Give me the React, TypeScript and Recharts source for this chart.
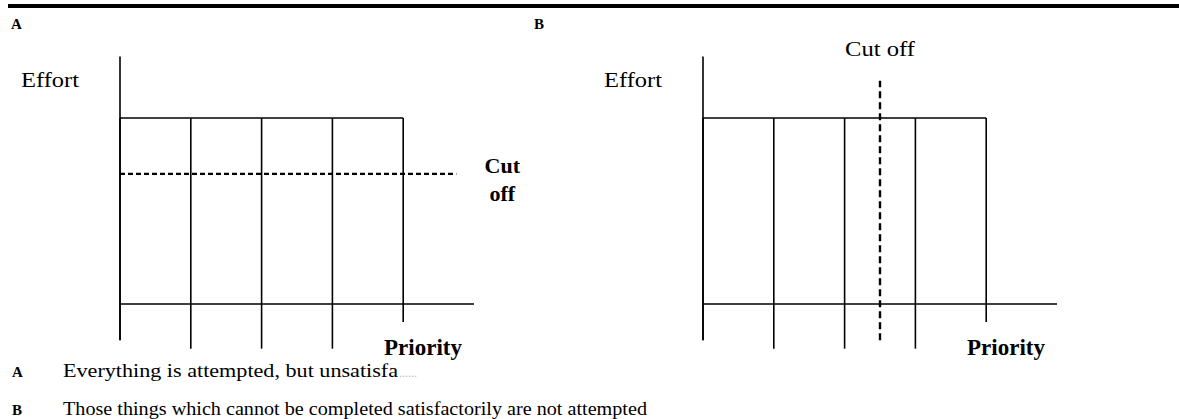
import React from "react";
import { ComposedChart, XAxis, YAxis, ReferenceLine } from "recharts";

// edges of the four equal tasks along the Priority axis
const taskEdges = [0, 1, 2, 3, 4];
// how far below the Priority axis each edge line is drawn
const edgeBottomsA = [-1.95, -2.4, -2.4, -2.4, -0.97];
const edgeBottomsB = [-1.95, -2.4, -2.4, -2.4, -0.97];
const effortLevel = 10;
const effortAxisTop = 13.3;
const effortAxisBottom = -1.95;
const priorityEnd = 5;

// A: cut off is a level of effort
const cutOffEffortA = 7.0;
const cutOffReachA = 4.75;
// B: cut off is a point on the priority scale
const cutOffPriorityB = 2.5;
const cutOffSpanB = [-1.95, 12.0];

const captionLetters = ["A", "B"];
const captions = [
  "Everything is attempted, but unsatisfa",
  "Those things which cannot be completed satisfactorily are not attempted",
];

const SERIF = "'Liberation Serif', 'Times New Roman', serif";
const W = 580;
const H = 419;
const margin = { top: 34.3, right: 106, bottom: 59.2, left: 120 };

const EffortLabel = (props: any) => {
  const { viewBox } = props;
  return (
    <text x={viewBox.x - 70} y={viewBox.y + 30} textAnchor="middle" fontFamily={SERIF} fontSize={22} textLength={58} lengthAdjust="spacingAndGlyphs" fill="#000">
      Effort
    </text>
  );
};

const PriorityLabel = (props: any) => {
  const { viewBox } = props;
  return (
    <text x={viewBox.x + viewBox.width - 51} y={viewBox.y + 51} textAnchor="middle" fontFamily={SERIF} fontWeight="bold" fontSize={23} textLength={78} lengthAdjust="spacingAndGlyphs" fill="#000">
      Priority
    </text>
  );
};

const CutOffSideLabel = (props: any) => {
  const { viewBox } = props;
  const cx = viewBox.x + viewBox.width + 46;
  return (
    <g fontFamily={SERIF} fontWeight="bold" fontSize={22} fill="#000">
      <text x={cx} y={viewBox.y - 1} textAnchor="middle">Cut</text>
      <text x={cx} y={viewBox.y + 27} textAnchor="middle">off</text>
    </g>
  );
};

const CutOffTopLabel = (props: any) => {
  const { viewBox } = props;
  return (
    <text x={viewBox.x} y={viewBox.y - 25} textAnchor="middle" fontFamily={SERIF} fontSize={22} textLength={70} lengthAdjust="spacingAndGlyphs" fill="#000">
      Cut off
    </text>
  );
};

const Panel = ({ variant }: { variant: "A" | "B" }) => {
  const bottoms = variant === "A" ? edgeBottomsA : edgeBottomsB;
  const last = taskEdges[taskEdges.length - 1];
  return (
    <ComposedChart width={W} height={H} margin={margin} data={[]}>
      <XAxis type="number" dataKey="x" domain={[0, priorityEnd]} hide allowDataOverflow />
      <YAxis type="number" domain={[-3, 14.5]} hide allowDataOverflow />
      {/* Effort axis */}
      <ReferenceLine
        segment={[{ x: 0, y: effortAxisBottom }, { x: 0, y: effortAxisTop }]}
        stroke="#000"
        strokeWidth={1.6}
        label={EffortLabel}
      />
      {/* Priority axis */}
      <ReferenceLine
        segment={[{ x: 0, y: 0 }, { x: priorityEnd, y: 0 }]}
        stroke="#000"
        strokeWidth={1.6}
        label={PriorityLabel}
      />
      {/* top of the tasks */}
      <ReferenceLine
        segment={[{ x: 0, y: effortLevel }, { x: last, y: effortLevel }]}
        stroke="#000"
        strokeWidth={1.6}
      />
      {taskEdges.map((e, i) => (
        <ReferenceLine
          key={`edge-${i}`}
          segment={[{ x: e, y: bottoms[i] }, { x: e, y: effortLevel }]}
          stroke="#000"
          strokeWidth={1.6}
        />
      ))}
      {variant === "A" ? (
        <ReferenceLine
          segment={[{ x: 0, y: cutOffEffortA }, { x: cutOffReachA, y: cutOffEffortA }]}
          stroke="#000"
          strokeWidth={2.2}
          strokeDasharray="5 3"
          label={CutOffSideLabel}
        />
      ) : (
        <ReferenceLine
          segment={[{ x: cutOffPriorityB, y: cutOffSpanB[0] }, { x: cutOffPriorityB, y: cutOffSpanB[1] }]}
          stroke="#000"
          strokeWidth={2.4}
          strokeDasharray="7 4"
          label={CutOffTopLabel}
        />
      )}
    </ComposedChart>
  );
};

export default function App() {
  return (
    <div style={{ position: "absolute", left: 0, top: 0, width: 1179, height: 419, background: "#fff", overflow: "hidden" }}>
      <div style={{ position: "absolute", left: 8, top: 4, width: 1171, height: 4, background: "#000" }} />
      <div style={{ position: "absolute", left: 0, top: 0 }}>
        <Panel variant="A" />
      </div>
      <div style={{ position: "absolute", left: 583, top: 0 }}>
        <Panel variant="B" />
      </div>
      <svg width={1179} height={419} style={{ position: "absolute", left: 0, top: 0, pointerEvents: "none" }}>
        <g fontFamily={SERIF} fontWeight="bold" fontSize={15} fill="#000">
          <text x={11} y={29}>{captionLetters[0]}</text>
          <text x={534} y={29}>{captionLetters[1]}</text>
          <text x={12} y={377}>{captionLetters[0]}</text>
          <text x={12} y={415}>{captionLetters[1]}</text>
        </g>
        <g fontFamily={SERIF} fontSize={18} fill="#000">
          <text x={63} y={377} textLength={335} lengthAdjust="spacingAndGlyphs">{captions[0]}</text>
          <text x={399} y={377} fill="#bbb" fontSize={12}>......</text>
          <text x={63} y={415} textLength={584} lengthAdjust="spacingAndGlyphs">{captions[1]}</text>
        </g>
      </svg>
    </div>
  );
}
